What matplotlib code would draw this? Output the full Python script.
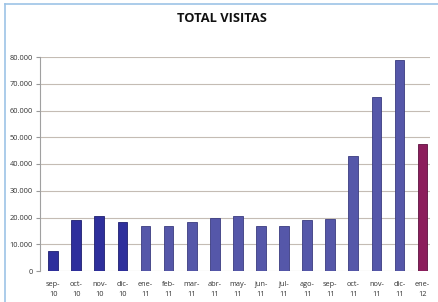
import matplotlib
matplotlib.use("Agg")
import matplotlib.pyplot as plt
from matplotlib.lines import Line2D
from matplotlib.ticker import FuncFormatter

months = ["sep-\n10", "oct-\n10", "nov-\n10", "dic-\n10", "ene-\n11", "feb-\n11",
          "mar-\n11", "abr-\n11", "may-\n11", "jun-\n11", "jul-\n11", "ago-\n11",
          "sep-\n11", "oct-\n11", "nov-\n11", "dic-\n11", "ene-\n12"]
visitas = [7500, 19200, 20500, 18300, 16700, 16700, 18300, 20000, 20600,
           16700, 16700, 19200, 19500, 43000, 65000, 78800, 47500]
colors = ["#2E2F9C"] * 4 + ["#5557A9"] * 12 + ["#8C1E5C"]
edge = ["#1E1F70"] * 4 + ["#3A3C80"] * 12 + ["#5E1040"]
yticks = [0, 10000, 20000, 30000, 40000, 50000, 60000, 70000, 80000]

plt.rcParams['font.family'] = ['Open Sans', 'DejaVu Sans']
fig = plt.figure(figsize=(4.38, 3.02), dpi=100)
ax = fig.add_axes([40/438, 31/302, 390/438, 214/302])

x = list(range(len(visitas)))
ax.bar(x, visitas, width=0.42, color=colors, edgecolor=edge, linewidth=0.6, zorder=3)

ax.set_ylim(0, 80000)
ax.set_xlim(-0.57, 16.32)
ax.set_yticks(yticks)
ax.yaxis.set_major_formatter(FuncFormatter(lambda v, p: "0" if v == 0 else f"{int(v):,}".replace(",", ".")))
ax.set_xticks(x)
ax.set_xticklabels(months, fontsize=5.3, color="#333333", linespacing=1.6)
ax.tick_params(axis='y', labelsize=5.3, labelcolor="#333333", length=3, color="#999999", pad=2)
ax.tick_params(axis='x', length=0, pad=7)
for v in yticks:
    ax.axhline(v, color="#C4BCB4", linewidth=0.8, zorder=1)
for s in ["top", "right", "bottom"]:
    ax.spines[s].set_visible(False)
ax.spines["left"].set_color("#A0A0A0")
ax.spines["left"].set_linewidth(0.8)

fig.text(222/438, 1 - 18/302, "TOTAL VISITAS", ha="center", va="center",
         fontsize=9.3, fontweight="bold", color="#111111")

# chart border (light blue, top and left)
fig.add_artist(Line2D([5/438, 1], [1 - 4/302, 1 - 4/302], transform=fig.transFigure,
                      color="#9DC3E6", linewidth=1.2))
fig.add_artist(Line2D([5/438, 5/438], [0, 1 - 4/302], transform=fig.transFigure,
                      color="#9DC3E6", linewidth=1.2))

fig.savefig("out.png", dpi=100)
